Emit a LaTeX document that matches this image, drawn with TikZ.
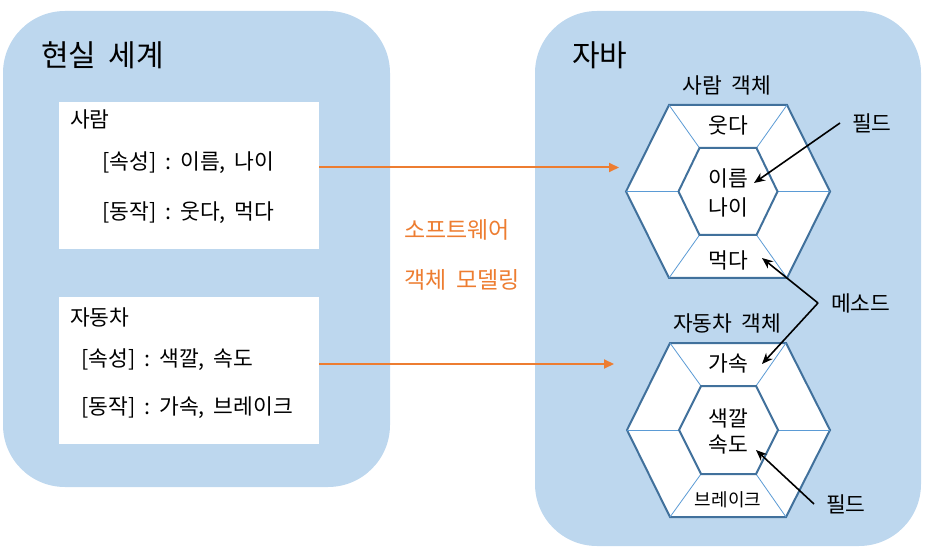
\documentclass[tikz,border=0pt]{standalone}
\usepackage{fontspec}
\setmainfont{Noto Sans CJK KR}
\usetikzlibrary{arrows.meta}
\definecolor{panel}{HTML}{BDD7EE}
\definecolor{hexline}{HTML}{41719C}
\definecolor{spokeblue}{HTML}{5B9BD5}
\definecolor{orng}{HTML}{ED7D31}
\newcommand{\wsp}{\hspace{0.42em}}
\newcommand{\tsp}{\hspace{0.42em}}
\begin{document}
\begin{tikzpicture}[x=1pt,y=-1pt,
  panelbg/.style={fill=panel, rounded corners=62pt},
  whitebox/.style={fill=white, draw=none, inner sep=0pt, minimum width=260pt, minimum height=147pt},
  head/.style={inner sep=0pt, font=\fontsize{30}{34}\selectfont},
  txt/.style={inner sep=0pt, anchor=west, font=\fontsize{21.5}{25}\selectfont},
  hextxt/.style={inner sep=0pt, font=\fontsize{21.5}{25}\selectfont},
  smalltxt/.style={inner sep=0pt, font=\fontsize{18}{21}\selectfont},
  orngtxt/.style={inner sep=0pt, anchor=west, text=orng, font=\fontsize{23}{27}\selectfont},
  outerhex/.style={draw=hexline, line width=2pt, fill=white, line join=miter},
  innerhex/.style={draw=hexline, line width=2pt, fill=white, line join=miter},
  spoke/.style={draw=spokeblue, line width=0.8pt},
  orngarrow/.style={draw=orng, line width=2pt, -{Triangle[length=10pt,width=9pt]}},
  blkarrow/.style={draw=black, line width=1.6pt, -{Stealth[length=11pt,width=9pt]}},
]
\useasboundingbox (0,0) rectangle (926,553);

% panels
\fill[panelbg] (3,11) rectangle (390,487);
\fill[panelbg] (535,11) rectangle (921,546);
\node[head, anchor=west] (real) at (41,55) {현실\wsp{}세계};
\node[head, anchor=west] (java) at (572,55) {자바};

% left boxes
\node[whitebox] (box1) at (189,175.5) {};
\node[whitebox] (box2) at (189,370.5) {};
\node[txt] (p0) at (70,119) {사람};
\node[txt] (p1) at (102,163) {[속성]\tsp{}:\tsp{}이름,\tsp{}나이};
\node[txt] (p2) at (102,213) {[동작]\tsp{}:\tsp{}웃다,\tsp{}먹다};
\node[txt] (c0) at (70,317) {자동차};
\node[txt] (c1) at (81,360) {[속성]\tsp{}:\tsp{}색깔,\tsp{}속도};
\node[txt] (c2) at (81,408) {[동작]\tsp{}:\tsp{}가속,\tsp{}브레이크};

% orange label
\node[orngtxt] (sw1) at (404,230) {소프트웨어};
\node[orngtxt] (sw2) at (404,280) {객체\wsp{}모델링};

% hexagon 1
\begin{scope}[shift={(728,191.5)}]
  \path[outerhex] (-59,-86.5) -- (59,-86.5) -- (102,0) -- (59,86.5) -- (-59,86.5) -- (-102,0) -- cycle;
  \draw[spoke] (-59,-86.5) -- (-28.5,-43.5);
  \draw[spoke] (59,-86.5) -- (28.5,-43.5);
  \draw[spoke] (102,0) -- (49.5,0);
  \draw[spoke] (-102,0) -- (-49.5,0);
  \draw[spoke] (59,86.5) -- (28.5,43.5);
  \draw[spoke] (-59,86.5) -- (-28.5,43.5);
  \path[innerhex] (-28.5,-43.5) -- (28.5,-43.5) -- (49.5,0) -- (28.5,43.5) -- (-28.5,43.5) -- (-49.5,0) -- cycle;
  \node[hextxt] (h1top) at (0,-66.5) {웃다};
  \node[hextxt] (h1mid1) at (0,-13.5) {이름};
  \node[hextxt] (h1mid2) at (0,15.5) {나이};
  \node[hextxt] (h1bot) at (0,68.5) {먹다};
\end{scope}
\node[hextxt] (h1title) at (727,85) {사람\wsp{}객체};

% hexagon 2
\begin{scope}[shift={(728,430)}]
  \path[outerhex] (-58,-87) -- (58,-87) -- (102,0) -- (58,87) -- (-58,87) -- (-101,0) -- cycle;
  \draw[spoke] (-58,-87) -- (-27,-44);
  \draw[spoke] (58,-87) -- (28,-44);
  \draw[spoke] (102,0) -- (50,0);
  \draw[spoke] (-101,0) -- (-49,0);
  \draw[spoke] (58,87) -- (28,44);
  \draw[spoke] (-58,87) -- (-27,44);
  \path[innerhex] (-27,-44) -- (28,-44) -- (50,0) -- (28,44) -- (-27,44) -- (-49,0) -- cycle;
  \node[hextxt] (h2top) at (0,-67) {가속};
  \node[hextxt] (h2mid1) at (0,-12) {색깔};
  \node[hextxt] (h2mid2) at (0,15) {속도};
  \node[smalltxt] (h2bot) at (0,70) {브레이크};
\end{scope}
\node[hextxt] (h2title) at (727,323) {자동차\wsp{}객체};

% side labels
\node[txt] (field1) at (852,123) {필드};
\node[txt] (method) at (831,303) {메소드};
\node[txt] (field2) at (826,504) {필드};

% connector coordinates
\coordinate (o1s) at (319,167.5);
\coordinate (o1e) at (619,167.5);
\coordinate (o2s) at (319,364);
\coordinate (o2e) at (614,364);
\coordinate (f1s) at (840,123);
\coordinate (f1e) at (754,183);
\coordinate (ms) at (818,303);
\coordinate (m1e) at (762,258);
\coordinate (m2e) at (762,364);
\coordinate (f2s) at (814,504);
\coordinate (f2e) at (756,450);

\draw[orngarrow] (o1s) -- (o1e);
\draw[orngarrow] (o2s) -- (o2e);
\draw[blkarrow] (f1s) -- (f1e);
\draw[blkarrow] (ms) -- (m1e);
\draw[blkarrow] (ms) -- (m2e);
\draw[blkarrow] (f2s) -- (f2e);
\end{tikzpicture}
\end{document}
